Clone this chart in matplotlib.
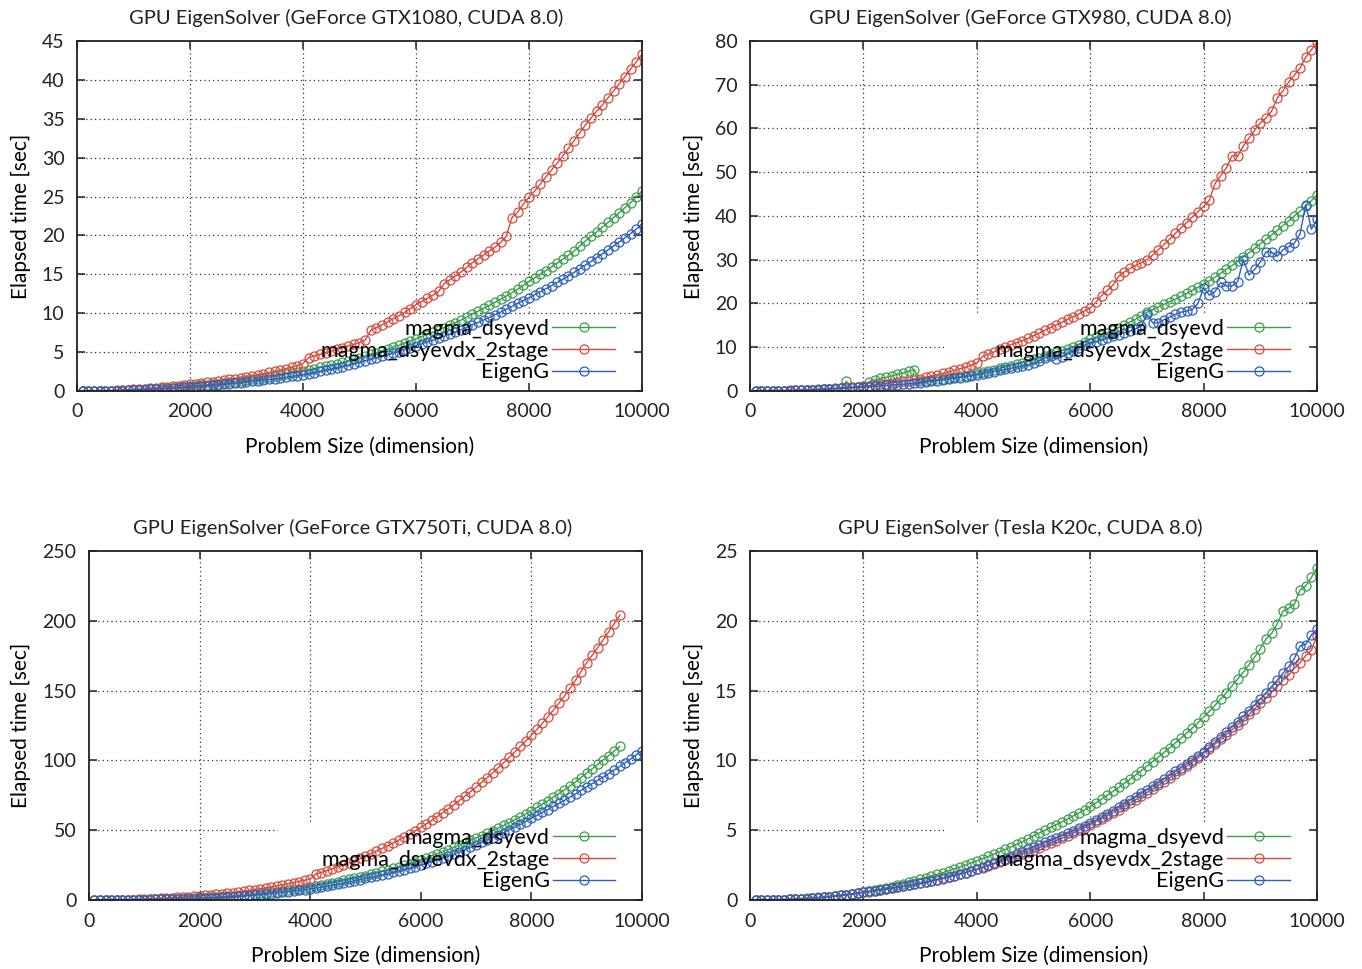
import numpy as np
import matplotlib.pyplot as plt
from matplotlib.patches import Rectangle

plt.rcParams['font.family'] = ['Lato', 'DejaVu Sans']

# problem sizes (dimension), one measurement every 100
dims = list(range(100, 10001, 100))

# ---- GeForce GTX1080 ----
gtx1080_dsyevd = [
    0.00, 0.00, 0.01, 0.01, 0.02, 0.03, 0.05, 0.07, 0.10, 0.15,
    0.18, 0.21, 0.25, 0.29, 0.33, 0.38, 0.43, 0.48, 0.54, 0.60,
    0.66, 0.73, 0.80, 0.87, 0.95, 1.03, 1.11, 1.20, 1.30, 1.40,
    1.50, 1.60, 1.71, 1.82, 1.93, 2.05, 2.18, 2.31, 2.45, 2.60,
    2.74, 2.88, 3.03, 3.18, 3.34, 3.50, 3.67, 3.85, 4.07, 4.30,
    4.51, 4.72, 4.94, 5.16, 5.39, 5.63, 5.88, 6.14, 6.42, 6.70,
    6.98, 7.26, 7.55, 7.85, 8.15, 8.46, 8.78, 9.12, 9.50, 9.90,
    10.26, 10.63, 11.01, 11.40, 11.80, 12.21, 12.63, 13.07, 13.57, 14.10,
    14.55, 15.01, 15.48, 15.96, 16.45, 16.95, 17.46, 17.99, 18.63, 19.30,
    19.88, 20.47, 21.07, 21.68, 22.30, 22.93, 23.57, 24.22, 24.95, 25.70]
gtx1080_2stage = [
    0.01, 0.01, 0.02, 0.03, 0.04, 0.06, 0.08, 0.11, 0.15, 0.20,
    0.25, 0.30, 0.36, 0.42, 0.49, 0.56, 0.63, 0.70, 0.77, 0.85,
    0.93, 1.01, 1.10, 1.19, 1.28, 1.38, 1.48, 1.58, 1.69, 1.80,
    1.94, 2.08, 2.23, 2.38, 2.54, 2.70, 2.87, 3.05, 3.26, 3.50,
    4.30, 4.50, 4.70, 4.91, 5.12, 5.34, 5.56, 5.79, 6.00, 6.20,
    6.55, 7.80, 8.15, 8.50, 8.90, 9.30, 9.70, 10.10, 10.60, 11.10,
    11.50, 11.90, 12.30, 12.80, 13.80, 14.30, 14.80, 15.30, 15.90, 16.50,
    17.00, 17.50, 18.00, 18.50, 19.10, 19.90, 22.30, 23.00, 24.00, 24.90,
    25.70, 26.60, 27.50, 28.40, 29.30, 30.20, 31.20, 32.20, 33.20, 34.20,
    35.10, 36.00, 36.80, 37.70, 38.60, 39.50, 40.40, 41.40, 42.30, 43.30]
gtx1080_eigeng = [
    0.00, 0.00, 0.01, 0.01, 0.02, 0.03, 0.04, 0.06, 0.09, 0.12,
    0.15, 0.18, 0.21, 0.24, 0.28, 0.32, 0.36, 0.40, 0.45, 0.50,
    0.55, 0.61, 0.67, 0.73, 0.79, 0.85, 0.92, 0.99, 1.07, 1.15,
    1.23, 1.31, 1.39, 1.48, 1.57, 1.66, 1.76, 1.87, 1.98, 2.10,
    2.23, 2.37, 2.51, 2.66, 2.81, 2.97, 3.14, 3.32, 3.51, 3.70,
    3.88, 4.06, 4.25, 4.44, 4.64, 4.85, 5.07, 5.30, 5.54, 5.80,
    6.04, 6.28, 6.53, 6.78, 7.04, 7.31, 7.59, 7.88, 8.18, 8.50,
    8.81, 9.13, 9.46, 9.80, 10.15, 10.51, 10.88, 11.25, 11.62, 12.00,
    12.37, 12.75, 13.14, 13.54, 13.95, 14.37, 14.80, 15.24, 15.71, 16.20,
    16.67, 17.15, 17.64, 18.14, 18.65, 19.17, 19.70, 20.24, 20.80, 21.50]

# ---- GeForce GTX980 ----
gtx980_dsyevd = [
    0.00, 0.01, 0.02, 0.03, 0.05, 0.07, 0.10, 0.13, 0.17, 0.22,
    0.28, 0.34, 0.41, 0.48, 0.56, 0.64, 2.20, 0.82, 0.92, 1.02,
    2.10, 2.50, 2.90, 3.10, 3.40, 3.80, 4.10, 4.50, 4.85, 2.20,
    2.35, 2.50, 2.66, 2.82, 2.99, 3.16, 3.34, 3.53, 3.75, 4.00,
    4.30, 4.60, 4.90, 5.20, 5.50, 5.80, 6.15, 6.50, 6.85, 7.20,
    7.60, 8.00, 8.40, 8.80, 9.25, 9.70, 10.15, 10.60, 11.20, 11.80,
    12.30, 12.80, 13.30, 13.90, 14.50, 15.10, 15.70, 16.40, 17.20, 18.00,
    18.60, 19.20, 19.80, 20.40, 21.00, 21.60, 22.30, 23.00, 23.70, 24.40,
    25.20, 26.00, 26.90, 27.80, 28.70, 29.60, 30.60, 31.60, 32.60, 33.70,
    34.70, 35.70, 36.70, 37.80, 38.90, 40.00, 41.10, 42.30, 43.50, 44.80]
gtx980_2stage = [
    0.00, 0.01, 0.02, 0.04, 0.06, 0.09, 0.12, 0.16, 0.21, 0.27,
    0.33, 0.40, 0.47, 0.55, 0.63, 0.72, 0.81, 0.90, 1.00, 1.10,
    1.25, 1.40, 1.55, 1.70, 1.86, 2.03, 2.20, 2.39, 2.58, 2.80,
    3.10, 3.40, 3.70, 4.00, 4.35, 4.70, 5.05, 5.40, 5.90, 6.40,
    7.90, 8.40, 8.90, 9.50, 10.10, 10.60, 11.00, 11.50, 12.00, 12.60,
    13.20, 13.90, 14.50, 15.10, 15.70, 16.40, 17.00, 17.60, 18.30, 19.00,
    20.30, 21.80, 23.00, 24.20, 26.20, 27.20, 28.00, 28.70, 29.30, 30.00,
    31.10, 32.30, 33.50, 34.70, 36.00, 37.30, 38.50, 39.80, 41.00, 42.20,
    43.60, 47.40, 49.20, 51.00, 53.80, 53.70, 56.00, 57.80, 59.60, 61.30,
    62.40, 64.00, 67.00, 68.60, 70.60, 72.20, 73.80, 76.30, 78.00, 79.80]
gtx980_eigeng = [
    0.00, 0.01, 0.02, 0.03, 0.05, 0.07, 0.10, 0.13, 0.17, 0.22,
    0.27, 0.33, 0.39, 0.45, 0.52, 0.59, 0.66, 0.73, 0.81, 0.90,
    0.99, 1.08, 1.17, 1.27, 1.37, 1.47, 1.57, 1.68, 1.79, 1.90,
    2.05, 2.21, 2.37, 2.54, 2.71, 2.89, 3.07, 3.26, 3.47, 3.70,
    3.95, 4.20, 4.45, 4.70, 4.95, 5.20, 5.45, 5.75, 6.00, 6.30,
    6.90, 7.50, 8.10, 7.30, 7.80, 8.60, 9.20, 9.80, 10.40, 11.00,
    11.30, 11.70, 12.10, 12.50, 12.90, 13.30, 13.70, 14.20, 14.80, 17.60,
    15.60, 15.50, 16.30, 16.90, 17.50, 18.00, 18.30, 18.60, 20.00, 23.60,
    21.90, 22.70, 24.80, 24.00, 24.00, 25.00, 30.00, 26.50, 27.80, 29.50,
    31.80, 31.70, 30.80, 32.30, 33.00, 33.80, 35.90, 42.60, 37.00, 39.20]

# ---- GeForce GTX750Ti (magma runs stop at 9600) ----
gtx750_dsyevd = [
    0.00, 0.01, 0.02, 0.03, 0.05, 0.08, 0.12, 0.17, 0.23, 0.30,
    0.38, 0.47, 0.57, 0.68, 0.80, 0.93, 1.06, 1.20, 1.35, 1.50,
    1.70, 1.92, 2.15, 2.40, 2.66, 2.93, 3.22, 3.53, 3.90, 4.30,
    4.72, 5.16, 5.61, 6.08, 6.57, 7.08, 7.61, 8.16, 8.80, 9.50,
    10.2, 10.9, 11.6, 12.4, 13.2, 14.0, 14.8, 15.7, 16.6, 17.5,
    18.5, 19.5, 20.5, 21.6, 22.7, 23.8, 24.9, 26.1, 27.5, 29.0,
    30.3, 31.7, 33.1, 34.6, 36.1, 37.7, 39.3, 41.0, 42.7, 44.5,
    46.2, 47.9, 49.7, 51.5, 53.4, 55.4, 57.4, 59.5, 61.7, 64.0,
    66.3, 68.7, 71.1, 73.6, 76.2, 78.9, 81.7, 84.6, 87.7, 91.0,
    94.0, 97.1, 100.3, 103.5, 106.7, 110.0]
gtx750_2stage = [
    0.01, 0.02, 0.04, 0.07, 0.11, 0.17, 0.24, 0.33, 0.45, 0.60,
    0.78, 0.97, 1.17, 1.38, 1.60, 1.84, 2.09, 2.36, 2.67, 3.00,
    3.35, 3.72, 4.10, 4.50, 4.92, 5.36, 5.82, 6.30, 6.88, 7.50,
    8.1, 8.7, 9.4, 10.1, 10.8, 11.6, 12.4, 13.2, 14.1, 15.0,
    18.5, 19.7, 21.0, 22.3, 23.7, 25.1, 26.6, 28.1, 29.8, 31.5,
    33.2, 35.0, 36.9, 38.8, 40.8, 42.9, 45.0, 47.2, 49.5, 52.0,
    54.5, 57.1, 59.8, 62.6, 65.4, 68.3, 71.3, 74.4, 77.6, 80.9,
    84.2, 87.6, 91.1, 94.7, 98.4, 102.2, 106.1, 110.0, 114.0, 118.0,
    122.2, 126.6, 131.2, 136.0, 141.0, 146.2, 151.6, 157.4, 163.6, 170.0,
    175.3, 180.8, 186.4, 192.2, 198.0, 204.0]
gtx750_eigeng = [
    0.00, 0.01, 0.02, 0.03, 0.05, 0.07, 0.10, 0.14, 0.19, 0.25,
    0.31, 0.38, 0.45, 0.53, 0.62, 0.72, 0.82, 0.94, 1.07, 1.20,
    1.36, 1.53, 1.71, 1.90, 2.10, 2.31, 2.53, 2.78, 3.08, 3.40,
    3.77, 4.16, 4.56, 4.98, 5.42, 5.88, 6.36, 6.87, 7.42, 8.00,
    8.6, 9.2, 9.9, 10.6, 11.3, 12.1, 12.9, 13.7, 14.6, 15.5,
    16.3, 17.1, 18.0, 18.9, 19.8, 20.7, 21.7, 22.7, 23.8, 25.0,
    26.2, 27.4, 28.7, 30.0, 31.4, 32.8, 34.3, 35.9, 37.7, 39.5,
    41.2, 42.9, 44.6, 46.4, 48.3, 50.2, 52.1, 54.1, 56.2, 58.5,
    60.6, 62.7, 64.8, 67.0, 69.2, 71.4, 73.7, 76.0, 78.5, 81.0,
    83.3, 85.7, 88.1, 90.6, 93.1, 95.7, 98.3, 101.0, 104.0, 107.0]

# ---- Tesla K20c ----
k20c_dsyevd = [
    0.00, 0.00, 0.01, 0.01, 0.02, 0.03, 0.05, 0.07, 0.09, 0.12,
    0.15, 0.18, 0.21, 0.25, 0.29, 0.33, 0.38, 0.43, 0.49, 0.55,
    0.62, 0.70, 0.78, 0.87, 0.96, 1.06, 1.16, 1.27, 1.38, 1.50,
    1.61, 1.72, 1.84, 1.96, 2.09, 2.22, 2.36, 2.50, 2.65, 2.80,
    2.96, 3.12, 3.28, 3.45, 3.62, 3.80, 3.98, 4.17, 4.38, 4.60,
    4.80, 5.00, 5.20, 5.40, 5.60, 5.80, 6.02, 6.24, 6.46, 6.70,
    6.96, 7.23, 7.50, 7.78, 8.06, 8.35, 8.65, 8.96, 9.27, 9.60,
    9.92, 10.24, 10.57, 10.91, 11.25, 11.60, 11.96, 12.33, 12.70, 13.10,
    13.52, 13.95, 14.39, 14.85, 15.33, 15.83, 16.33, 16.85, 17.40, 18.00,
    18.70, 19.10, 19.80, 20.70, 20.90, 21.20, 22.20, 22.50, 23.10, 23.80]
k20c_2stage = [
    0.00, 0.00, 0.01, 0.01, 0.02, 0.03, 0.04, 0.06, 0.08, 0.10,
    0.13, 0.16, 0.20, 0.24, 0.28, 0.33, 0.38, 0.43, 0.49, 0.55,
    0.60, 0.65, 0.71, 0.77, 0.83, 0.90, 0.97, 1.04, 1.12, 1.20,
    1.28, 1.36, 1.45, 1.54, 1.64, 1.74, 1.85, 1.96, 2.08, 2.20,
    2.32, 2.45, 2.58, 2.71, 2.85, 2.99, 3.14, 3.29, 3.44, 3.60,
    3.76, 3.92, 4.09, 4.26, 4.43, 4.61, 4.80, 4.99, 5.19, 5.40,
    5.61, 5.82, 6.04, 6.26, 6.48, 6.71, 6.94, 7.18, 7.43, 7.70,
    7.95, 8.21, 8.47, 8.74, 9.01, 9.29, 9.57, 9.86, 10.17, 10.50,
    10.83, 11.16, 11.50, 11.84, 12.19, 12.55, 12.92, 13.30, 13.70, 14.10,
    14.50, 14.91, 15.33, 15.76, 16.10, 16.60, 17.00, 17.50, 17.90, 18.90]
k20c_eigeng = [
    0.00, 0.00, 0.01, 0.01, 0.02, 0.03, 0.04, 0.06, 0.08, 0.10,
    0.13, 0.16, 0.20, 0.24, 0.28, 0.33, 0.38, 0.43, 0.49, 0.55,
    0.61, 0.67, 0.73, 0.79, 0.85, 0.91, 0.98, 1.05, 1.12, 1.20,
    1.28, 1.37, 1.46, 1.55, 1.65, 1.75, 1.86, 1.97, 2.08, 2.20,
    2.34, 2.48, 2.63, 2.78, 2.94, 3.10, 3.27, 3.44, 3.62, 3.80,
    3.96, 4.12, 4.28, 4.45, 4.62, 4.79, 4.96, 5.14, 5.32, 5.50,
    5.72, 5.95, 6.18, 6.41, 6.65, 6.90, 7.15, 7.40, 7.65, 7.90,
    8.15, 8.41, 8.67, 8.94, 9.21, 9.48, 9.76, 10.04, 10.32, 10.60,
    10.95, 11.30, 11.66, 12.03, 12.40, 12.78, 13.17, 13.57, 13.98, 14.40,
    14.85, 15.30, 15.77, 16.25, 16.73, 17.30, 18.20, 18.30, 19.00, 19.40]

labels = ['magma_dsyevd', 'magma_dsyevdx_2stage', 'EigenG']
colors = ['#3a9f4c', '#d64a3b', '#2d5fbf']

x_ticks = [0, 2000, 4000, 6000, 8000, 10000]

# title, y max, y step, series, axes rect [left, bottom, width, height]
panels = [
    ('GPU EigenSolver (GeForce GTX1080, CUDA 8.0)', 45, 5,
     [gtx1080_dsyevd, gtx1080_2stage, gtx1080_eigeng],
     [0.0565, 0.5965, 0.4148, 0.3612]),
    ('GPU EigenSolver (GeForce GTX980, CUDA 8.0)', 80, 10,
     [gtx980_dsyevd, gtx980_2stage, gtx980_eigeng],
     [0.5507, 0.5965, 0.4163, 0.3612]),
    ('GPU EigenSolver (GeForce GTX750Ti, CUDA 8.0)', 250, 50,
     [gtx750_dsyevd, gtx750_2stage, gtx750_eigeng],
     [0.0653, 0.0712, 0.4060, 0.3602]),
    ('GPU EigenSolver (Tesla K20c, CUDA 8.0)', 25, 5,
     [k20c_dsyevd, k20c_2stage, k20c_eigeng],
     [0.5507, 0.0712, 0.4163, 0.3602]),
]

fig = plt.figure(figsize=(13.62, 9.69), dpi=100)

for title, ymax, ystep, series, rect in panels:
    ax = fig.add_axes(rect)
    y_ticks = list(range(0, ymax + 1, ystep))

    # dotted grid (drawn by hand so the key box can hide part of it)
    for xv in x_ticks[1:-1]:
        ax.axvline(xv, color='#333333', lw=0.9, ls=(0, (1, 2.5)), zorder=0.3)
    for yv in y_ticks[1:-1]:
        ax.axhline(yv, color='#333333', lw=0.9, ls=(0, (1, 2.5)), zorder=0.3)
    # opaque key area like gnuplot
    ax.add_patch(Rectangle((0.342, 0.004), 0.65, 0.214, transform=ax.transAxes,
                           facecolor='white', edgecolor='none', zorder=0.4))

    for vals, lab, col in zip(series, labels, colors):
        ax.plot(dims[:len(vals)], vals, color=col, lw=1.0, marker='o',
                markersize=6.5, markerfacecolor='none', markeredgewidth=0.9,
                label=lab, zorder=2)

    ax.set_xlim(0, 10000)
    ax.set_ylim(0, ymax)
    ax.set_xticks(x_ticks)
    ax.set_yticks(y_ticks)
    ax.tick_params(direction='in', top=True, right=True, length=6, width=1.1,
                   labelsize=14, pad=9, colors='#222222')
    for sp in ax.spines.values():
        sp.set_linewidth(1.3)
        sp.set_color('#222222')

    ax.set_xlabel('Problem Size (dimension)', fontsize=15, labelpad=12)
    ax.set_ylabel('Elapsed time [sec]', fontsize=15, labelpad=8)
    ax.set_title(title, fontsize=14.5, x=0.477, pad=12, color='#222222')

    ax.legend(loc='lower right', bbox_to_anchor=(0.952, 0.025), frameon=False,
              markerfirst=False, fontsize=15.5, handlelength=2.9,
              handletextpad=0.15, labelspacing=0.08, borderpad=0,
              borderaxespad=0)

plt.savefig('out.png', dpi=100)
